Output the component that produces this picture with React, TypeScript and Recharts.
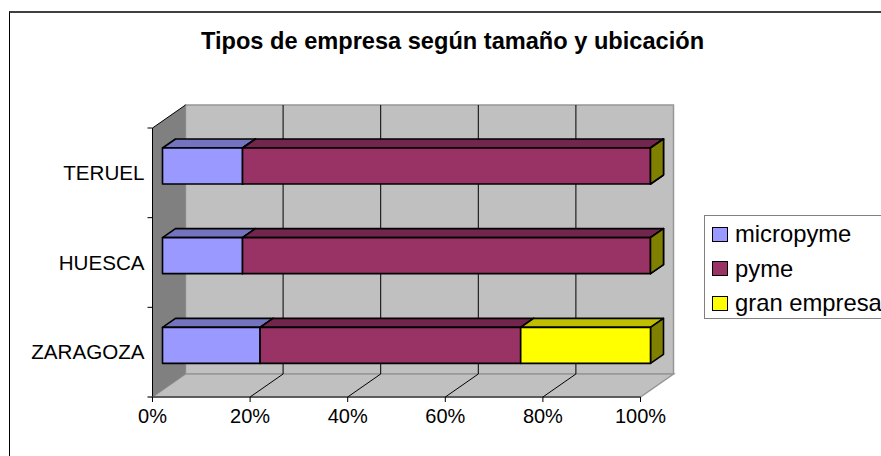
import React from 'react';
import { BarChart, Bar, XAxis, YAxis, Legend, ReferenceArea, ReferenceLine } from 'recharts';

const categories = ['TERUEL', 'HUESCA', 'ZARAGOZA'];
const micropyme = [16.4, 16.4, 20];
const pyme = [83.6, 83.6, 53.4];
const granEmpresa = [0, 0, 26.6];
const percentTicks = [0, 20, 40, 60, 80, 100];

const chartData = categories.map((name, i) => ({
  name,
  micropyme: micropyme[i],
  pyme: pyme[i],
  'gran empresa': granEmpresa[i],
}));

const FONT = 'Liberation Sans, Arial, sans-serif';
// depth of the fake 3D box
const DX = 33;
const DY = 23;

// side walls and floor of the box
function Walls({ x, y, width, height }: any) {
  const r = x + width;
  const b = y + height;
  return (
    <g>
      <polygon points={`${x + DX},${y - DY} ${r + DX},${y - DY} ${r + DX},${b - DY} ${x + DX},${b - DY}`} fill="#c0c0c0" stroke="#969696" strokeWidth={1.5} />
      <polygon points={`${x},${b} ${x + DX},${b - DY} ${r + DX},${b - DY} ${r},${b}`} fill="#c0c0c0" stroke="#969696" strokeWidth={1.5} />
      <polygon points={`${x},${y} ${x + DX},${y - DY} ${x + DX},${b - DY} ${x},${b}`} fill="#808080" />
      <line x1={x} y1={y} x2={x + DX} y2={y - DY} stroke="#000" />
      <line x1={x} y1={y} x2={x} y2={b} stroke="#000" />
      <line x1={x - 5} y1={b} x2={r} y2={b} stroke="#444" strokeWidth={1.5} />
      {categories.map((c, i) => (
        <line key={c} x1={x - 5} y1={y + (height * i) / categories.length} x2={x} y2={y + (height * i) / categories.length} stroke="#000" />
      ))}
    </g>
  );
}

// one gridline on the back wall plus its diagonal over the floor
function GridLine({ x1, y1, y2 }: any) {
  const top = Math.min(y1, y2);
  const bottom = Math.max(y1, y2);
  return (
    <g stroke="#000" strokeWidth={1}>
      <line x1={x1 + DX} y1={top - DY} x2={x1 + DX} y2={bottom - DY} />
      <line x1={x1} y1={bottom} x2={x1 + DX} y2={bottom - DY} />
    </g>
  );
}

// bar with a top and an end face, pushed into the box
const makeBar = (front: string, top: string) => (props: any) => {
  const x = props.x + 10;
  const y = props.y - 7;
  const { width, height } = props;
  const dx = 13;
  const dy = 9;
  return (
    <g stroke="#000" strokeWidth={1.6} strokeLinejoin="round">
      <polygon points={`${x},${y} ${x + dx},${y - dy} ${x + width + dx},${y - dy} ${x + width},${y}`} fill={top} />
      <polygon points={`${x + width},${y} ${x + width + dx},${y - dy} ${x + width + dx},${y + height - dy} ${x + width},${y + height}`} fill="#808000" />
      <rect x={x} y={y} width={width} height={height} fill={front} />
    </g>
  );
};

function LegendBox({ payload }: any) {
  return (
    <div style={{ width: 178, height: 104, boxSizing: 'border-box', border: '1px solid #808080', borderRight: 'none', background: '#fff', paddingTop: 1, fontFamily: FONT, fontSize: 23.8 }}>
      {(payload || []).map((p: any) => (
        <div key={p.value} style={{ display: 'flex', alignItems: 'center', height: 34.5, whiteSpace: 'nowrap', color: '#000' }}>
          <span style={{ width: 16, height: 15, boxSizing: 'border-box', border: '1.5px solid #000', background: p.color, marginLeft: 7, marginRight: 7 }} />
          {p.value}
        </div>
      ))}
    </div>
  );
}

export default function App() {
  return (
    <div style={{ position: 'absolute', left: 0, top: 0, width: 881, height: 456, overflow: 'hidden', background: '#fff' }}>
      <div style={{ position: 'absolute', left: 9, top: 11, width: 880, height: 450, boxSizing: 'border-box', borderTop: '2px solid #404040', borderLeft: '1.5px solid #000' }} />
      <div style={{ position: 'absolute', left: 201, top: 28, width: 520, whiteSpace: 'nowrap', fontFamily: FONT, fontWeight: 700, fontSize: 23.6, color: '#000' }}>
        Tipos de empresa según tamaño y ubicación
      </div>
      <BarChart
        width={881}
        height={456}
        data={chartData}
        layout="vertical"
        barSize={36}
        margin={{ top: 128, right: 62.5, bottom: 0, left: 0 }}
        style={{ position: 'absolute', left: 0, top: 0 }}
      >
        <XAxis
          type="number"
          domain={[0, 100]}
          ticks={percentTicks}
          tickFormatter={(v: number) => `${v}%`}
          axisLine={false}
          tickLine={{ stroke: '#000' }}
          tickSize={5}
          tickMargin={7}
          interval={0}
          tick={{ fill: '#000', fontFamily: FONT, fontSize: 20 }}
          height={59}
        />
        <YAxis
          type="category"
          dataKey="name"
          width={152.5}
          axisLine={false}
          tickLine={false}
          tickSize={5}
          tick={{ fill: '#000', fontFamily: FONT, fontSize: 20.6 }}
          tickMargin={3}
        />
        <ReferenceArea x1={0} x2={100} shape={<Walls />} fill="none" zIndex={100} />
        {percentTicks.slice(1, 5).map((t) => (
          <ReferenceLine key={t} x={t} shape={<GridLine />} zIndex={110} />
        ))}
        <Bar dataKey="micropyme" stackId="a" fill="#9999ff" shape={makeBar('#9999ff', '#7373bf')} isAnimationActive={false} />
        <Bar dataKey="pyme" stackId="a" fill="#993366" shape={makeBar('#993366', '#73264d')} isAnimationActive={false} />
        <Bar dataKey="gran empresa" stackId="a" fill="#ffff00" shape={makeBar('#ffff00', '#bfbf00')} isAnimationActive={false} />
        <Legend
          content={<LegendBox />}
          layout="vertical"
          align="right"
          verticalAlign="middle"
          itemSorter={null}
          wrapperStyle={{ position: 'absolute', left: 704, top: 215, width: 178, height: 104 }}
        />
      </BarChart>
    </div>
  );
}
